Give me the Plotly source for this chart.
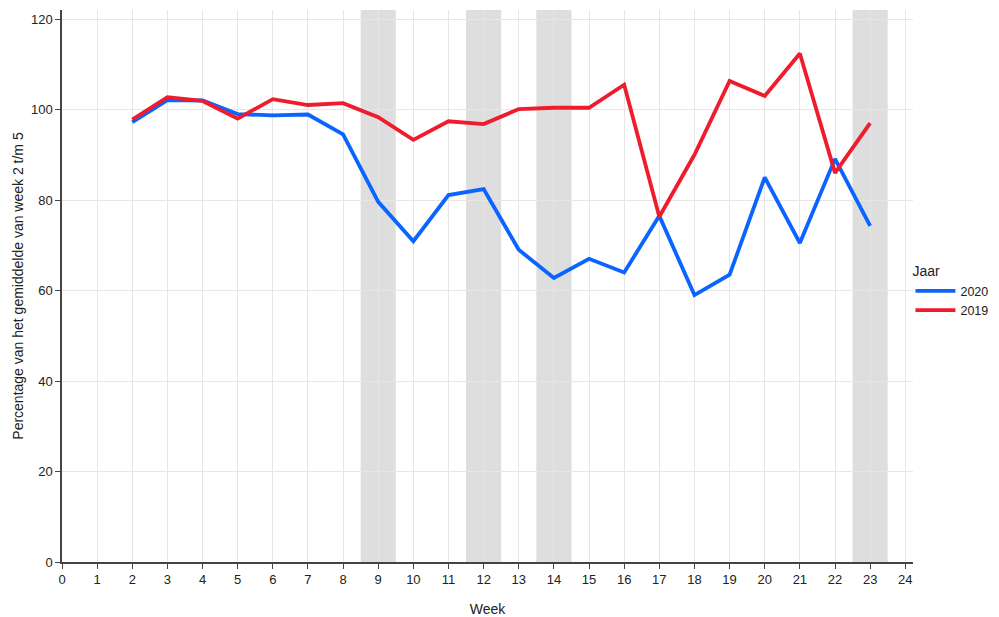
import plotly.graph_objects as go

weeks = list(range(2, 24))
pct_2020 = [97.2, 102.1, 102.0, 99.0, 98.7, 98.9, 94.5, 79.6, 70.9, 81.1, 82.4, 69.0, 62.8, 67.0, 64.0, 76.5, 59.0, 63.5, 85.0, 70.5, 89.1, 74.3]
pct_2019 = [97.8, 102.7, 101.9, 98.0, 102.3, 101.0, 101.4, 98.3, 93.3, 97.4, 96.8, 100.1, 100.4, 100.4, 105.5, 76.3, 90.0, 106.3, 103.0, 112.4, 86.0, 97.0]
shaded_weeks = [9, 12, 14, 23]
x_ticks = list(range(0, 25))
y_ticks = [0, 20, 40, 60, 80, 100, 120]

fig = go.Figure()
fig.add_trace(go.Scatter(x=weeks, y=pct_2020, mode="lines", name="2020",
                         line=dict(color="#0a64ff", width=3.8)))
fig.add_trace(go.Scatter(x=weeks, y=pct_2019, mode="lines", name="2019",
                         line=dict(color="#ee1c2c", width=3.8)))

for w in shaded_weeks:
    fig.add_vrect(x0=w - 0.5, x1=w + 0.5, fillcolor="#dedede", opacity=1,
                  line_width=0, layer="below")

fig.update_layout(
    width=991, height=609,
    margin=dict(l=54, r=86, t=2, b=55, autoexpand=False),
    paper_bgcolor="white", plot_bgcolor="white",
    font=dict(family="Liberation Sans, Arial, sans-serif", size=13, color="#222"),
    legend=dict(title=dict(text="Jaar", font=dict(size=14)), x=0.997, y=0.49,
                xanchor="left", yanchor="middle", font=dict(size=12.5),
                bgcolor="rgba(0,0,0,0)",
                itemwidth=40, tracegroupgap=0),
    showlegend=True,
)
fig.update_xaxes(range=[0, 24.22], tickvals=x_ticks, ticks="outside", ticklen=5,
                 tickcolor="#444", showline=True, linecolor="#444", linewidth=1.5,
                 showgrid=True, gridcolor="#e6e6e6", gridwidth=1, zeroline=False,
                 automargin=False,
                 title=dict(text="Week", font=dict(size=14), standoff=18))
fig.update_yaxes(range=[0, 122], tickvals=y_ticks, ticks="outside", ticklen=5,
                 tickcolor="#444", showline=True, linecolor="#444", linewidth=1.5,
                 showgrid=True, gridcolor="#e6e6e6", gridwidth=1, zeroline=False,
                 automargin=False,
                 title=dict(text="Percentage van het gemiddelde van week 2 t/m 5",
                            font=dict(size=14), standoff=4))

fig.write_html("out.html")
